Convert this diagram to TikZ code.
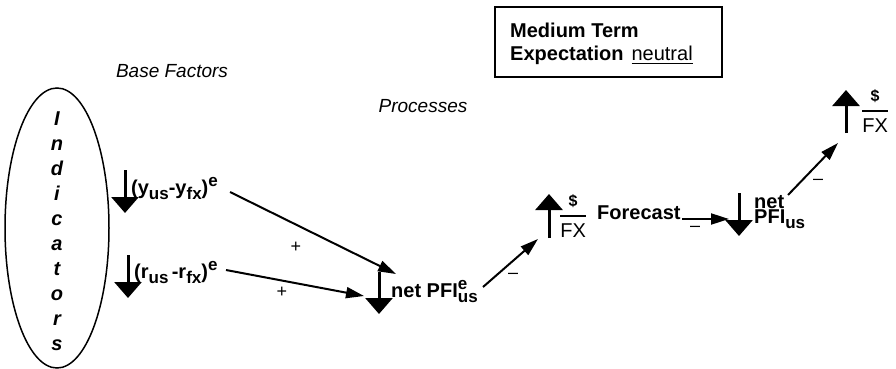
\documentclass[tikz,border=0pt]{standalone}
\usepackage{amsmath}
\usepackage{fontspec}
\setmainfont{Liberation Sans}
\usetikzlibrary{arrows.meta}
\newcommand\lowtxt[1]{\raisebox{-5pt}{\fontsize{17}{17}\selectfont #1}}
\newcommand\hightxt[1]{\raisebox{8pt}{\fontsize{17}{17}\selectfont #1}}
\newcommand\dollarfx{$\genfrac{}{}{2.2pt}{0}{\text{\fontsize{16}{16}\selectfont\bfseries\$}}{\text{\fontsize{20}{20}\selectfont\mdseries FX}}$}
\tikzset{
  lbl/.style={font=\fontsize{20}{22}\selectfont\bfseries, inner sep=0pt},
  itl/.style={font=\fontsize{19}{21}\selectfont\itshape, inner sep=0pt},
  sign/.style={font=\fontsize{18}{18}\selectfont, inner sep=0pt},
  bigarrow/.style={line width=3pt, -{Triangle[width=27pt,length=16pt]}},
  conn/.style={line width=2pt, -{Triangle[width=11pt,length=18pt]}},
}
\begin{document}
\begin{tikzpicture}[x=1pt,y=-1pt]
\useasboundingbox (0,0) rectangle (896,369);
% title box
\node[draw, line width=1.5pt, minimum width=227pt, minimum height=70pt, inner sep=0pt] (box) at (608.5,42) {};
\node[lbl, anchor=west] (mt) at (510,30) {Medium Term};
\node[lbl, anchor=west] (exp) at (510,55) {Expectation\hspace{8pt}\underline{\mdseries neutral}};
% headings
\node[itl] (base) at (172,71) {Base Factors};
\node[itl] (proc) at (423,106) {Processes};
% indicators ellipse
\draw[line width=1.5pt] (57,228) ellipse [x radius=52, y radius=140];
\node[inner sep=0pt] (ind) at (57,233) {\fontsize{20}{25}\selectfont\bfseries\itshape
  \begin{tabular}{@{}c@{}}I\\n\\d\\i\\c\\a\\t\\o\\r\\s\end{tabular}};
% base factor arrows
\draw[bigarrow] (125,170) -- (125,213);
\node[lbl, anchor=west] (yy) at (131,189) {(y\lowtxt{us}-y\lowtxt{fx})\hightxt{e}};
\draw[bigarrow] (128,255) -- (128,298);
\node[lbl, anchor=west] (rr) at (134,273) {(r\lowtxt{us}\,-r\lowtxt{fx})\hightxt{e}};
% net PFI expected
\draw[bigarrow] (379,272) -- (379,314);
\node[lbl, anchor=west] (npe) at (391,292) {net PFI\rlap{\hightxt{e}}\lowtxt{us}};
\coordinate (npeIn1) at (396,274);
\coordinate (npeIn2) at (364,296);
\coordinate (yyOut) at (230,192);
\coordinate (rrOut) at (226,270);
\draw[conn] (yyOut) -- (npeIn1);
\draw[conn] (rrOut) -- (npeIn2);
\node[sign] (p1) at (296,247) {+};
\node[sign] (p2) at (282,292) {+};
% $/FX forecast
\draw[bigarrow] (549,238) -- (549,194);
\node[inner sep=0pt, anchor=west] (fx1) at (559,216) {\dollarfx};
\node[lbl, anchor=west] (fc) at (597,213) {Forecast};
\coordinate (npeOut) at (483,287);
\coordinate (fx1In) at (538,239);
\draw[conn] (npeOut) -- (fx1In);
\node[sign] (m1) at (513,276) {--};
% net PFI us
\draw[bigarrow] (739,193) -- (739,236);
\node[lbl, anchor=west] (npu) at (754,212) {\begin{tabular}{@{}l@{}}net\\[-7pt]PFI\lowtxt{us}\end{tabular}};
\coordinate (fcOut) at (682,219);
\coordinate (npuIn) at (729,219);
\draw[conn] (fcOut) -- (npuIn);
\node[sign] (m2) at (695,229) {--};
% $/FX final
\draw[bigarrow] (846,133) -- (846,90);
\node[inner sep=0pt, anchor=west] (fx2) at (861,111) {\dollarfx};
\coordinate (npuOut) at (788,195);
\coordinate (fx2In) at (838,143);
\draw[conn] (npuOut) -- (fx2In);
\node[sign] (m3) at (818,182) {--};
\end{tikzpicture}
\end{document}
